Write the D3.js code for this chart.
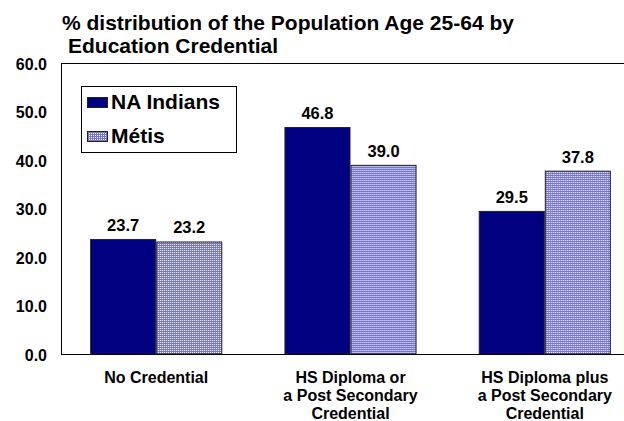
<!DOCTYPE html>
<html>
<head>
<meta charset="utf-8">
<script src="https://cdn.jsdelivr.net/npm/d3@7"></script>
<style>
  body { margin: 0; background: #fff; }
  svg { display: block; font-family: "Liberation Sans", Arial, sans-serif; font-weight: bold; }
</style>
</head>
<body>
<div id="chart"></div>
<script>
(() => {
const categories = [
    ['No Credential'],
    ['HS Diploma or', 'a Post Secondary', 'Credential'],
    ['HS Diploma plus', 'a Post Secondary', 'Credential']
];
const seriesNames = ['NA Indians', 'Métis'];
const naIndians = [23.7, 46.8, 29.5];
const metis = [23.2, 39.0, 37.8];
const yTicks = [0, 10, 20, 30, 40, 50, 60];

const width = 624;
const height = 421;
const plot = { left: 61, top: 63, right: 640, bottom: 354 };

const svg = d3.select('#chart')
    .append('svg')
    .attr('width', width)
    .attr('height', height);

// dotted fill for the Métis bars
const pat = svg.append('defs').append('pattern')
    .attr('id', 'dots')
    .attr('width', 2)
    .attr('height', 2)
    .attr('patternUnits', 'userSpaceOnUse');
pat.append('rect').attr('width', 2).attr('height', 2).attr('fill', '#7474cc');
pat.append('rect').attr('width', 1).attr('height', 1).attr('fill', '#ffffff');

const x0 = d3.scaleBand()
    .domain(d3.range(categories.length))
    .range([plot.left, plot.right])
    .paddingInner(0.32)
    .paddingOuter(0.15);

const x1 = d3.scaleBand()
    .domain(seriesNames)
    .range([0, x0.bandwidth()]);

const y = d3.scaleLinear()
    .domain([0, 60])
    .range([plot.bottom, plot.top]);

const fills = { 'NA Indians': '#000080', 'Métis': 'url(#dots)' };

// title
const title = svg.append('text')
    .attr('font-size', 21)
    .attr('fill', '#000');
title.append('tspan').attr('x', 62).attr('y', 30).text('% distribution of the Population Age 25-64 by');
title.append('tspan').attr('x', 68).attr('y', 53).text('Education Credential');

// frame: left and top
svg.append('line')
    .attr('x1', plot.left + 0.5).attr('x2', plot.left + 0.5)
    .attr('y1', plot.top).attr('y2', plot.bottom)
    .attr('stroke', '#000');
svg.append('line')
    .attr('x1', plot.left).attr('x2', width)
    .attr('y1', plot.top + 0.5).attr('y2', plot.top + 0.5)
    .attr('stroke', '#000');

// y axis labels
const yAxis = d3.axisLeft(y)
    .tickValues(yTicks)
    .tickFormat(d3.format('.1f'))
    .tickSize(0)
    .tickPadding(14);
const gy = svg.append('g')
    .attr('transform', `translate(${plot.left},1)`)
    .call(yAxis);
gy.select('.domain').remove();
gy.selectAll('text')
    .attr('font-size', 16)
    .attr('font-family', '"Liberation Sans", Arial, sans-serif')
    .attr('font-weight', 'bold')
    .attr('fill', '#000');

// bars
const rows = naIndians.map((v, i) => ({ i, values: [
    { name: seriesNames[0], value: v },
    { name: seriesNames[1], value: metis[i] }
] }));

const groups = svg.selectAll('g.group')
    .data(rows)
    .enter()
    .append('g')
    .attr('class', 'group')
    .attr('transform', d => `translate(${x0(d.i)},0)`);

groups.selectAll('rect')
    .data(d => d.values)
    .enter()
    .append('rect')
    .attr('x', d => x1(d.name) + 0.5)
    .attr('y', d => y(d.value) + 0.5)
    .attr('width', x1.bandwidth() - 1)
    .attr('height', d => y(0) - y(d.value) - 0.5)
    .attr('fill', d => fills[d.name])
    .attr('stroke', '#222')
    .attr('stroke-width', 1);

groups.selectAll('text.val')
    .data(d => d.values)
    .enter()
    .append('text')
    .attr('class', 'val')
    .attr('x', d => x1(d.name) + x1.bandwidth() / 2)
    .attr('y', d => y(d.value) - 8)
    .attr('text-anchor', 'middle')
    .attr('font-size', 16.5)
    .text(d => d.value.toFixed(1));

// baseline
svg.append('line')
    .attr('x1', plot.left).attr('x2', width)
    .attr('y1', plot.bottom + 0.5).attr('y2', plot.bottom + 0.5)
    .attr('stroke', '#000');

// category labels
const catLabels = svg.selectAll('text.cat')
    .data(categories)
    .enter()
    .append('text')
    .attr('class', 'cat')
    .attr('text-anchor', 'middle')
    .attr('font-size', 16);
catLabels.each(function (lines, i) {
    const cx = x0(i) + x0.bandwidth() / 2;
    d3.select(this).selectAll('tspan')
        .data(lines)
        .enter()
        .append('tspan')
        .attr('x', cx)
        .attr('y', (d, j) => 383 + j * 18)
        .text(d => d);
});

// legend
const legend = svg.append('g').attr('transform', 'translate(81,86)');
legend.append('rect')
    .attr('x', 0.5).attr('y', 0.5)
    .attr('width', 155).attr('height', 66)
    .attr('fill', '#fff')
    .attr('stroke', '#000');
seriesNames.forEach((name, i) => {
    const row = legend.append('g').attr('transform', `translate(6,${11 + i * 34})`);
    row.append('rect')
        .attr('x', 0.5).attr('y', 0.5)
        .attr('width', 20).attr('height', 10)
        .attr('fill', fills[name])
        .attr('stroke', '#222');
    row.append('text')
        .attr('x', 24)
        .attr('y', 11.5)
        .attr('font-size', 21)
        .text(name);
});
})();
</script>
</body>
</html>
